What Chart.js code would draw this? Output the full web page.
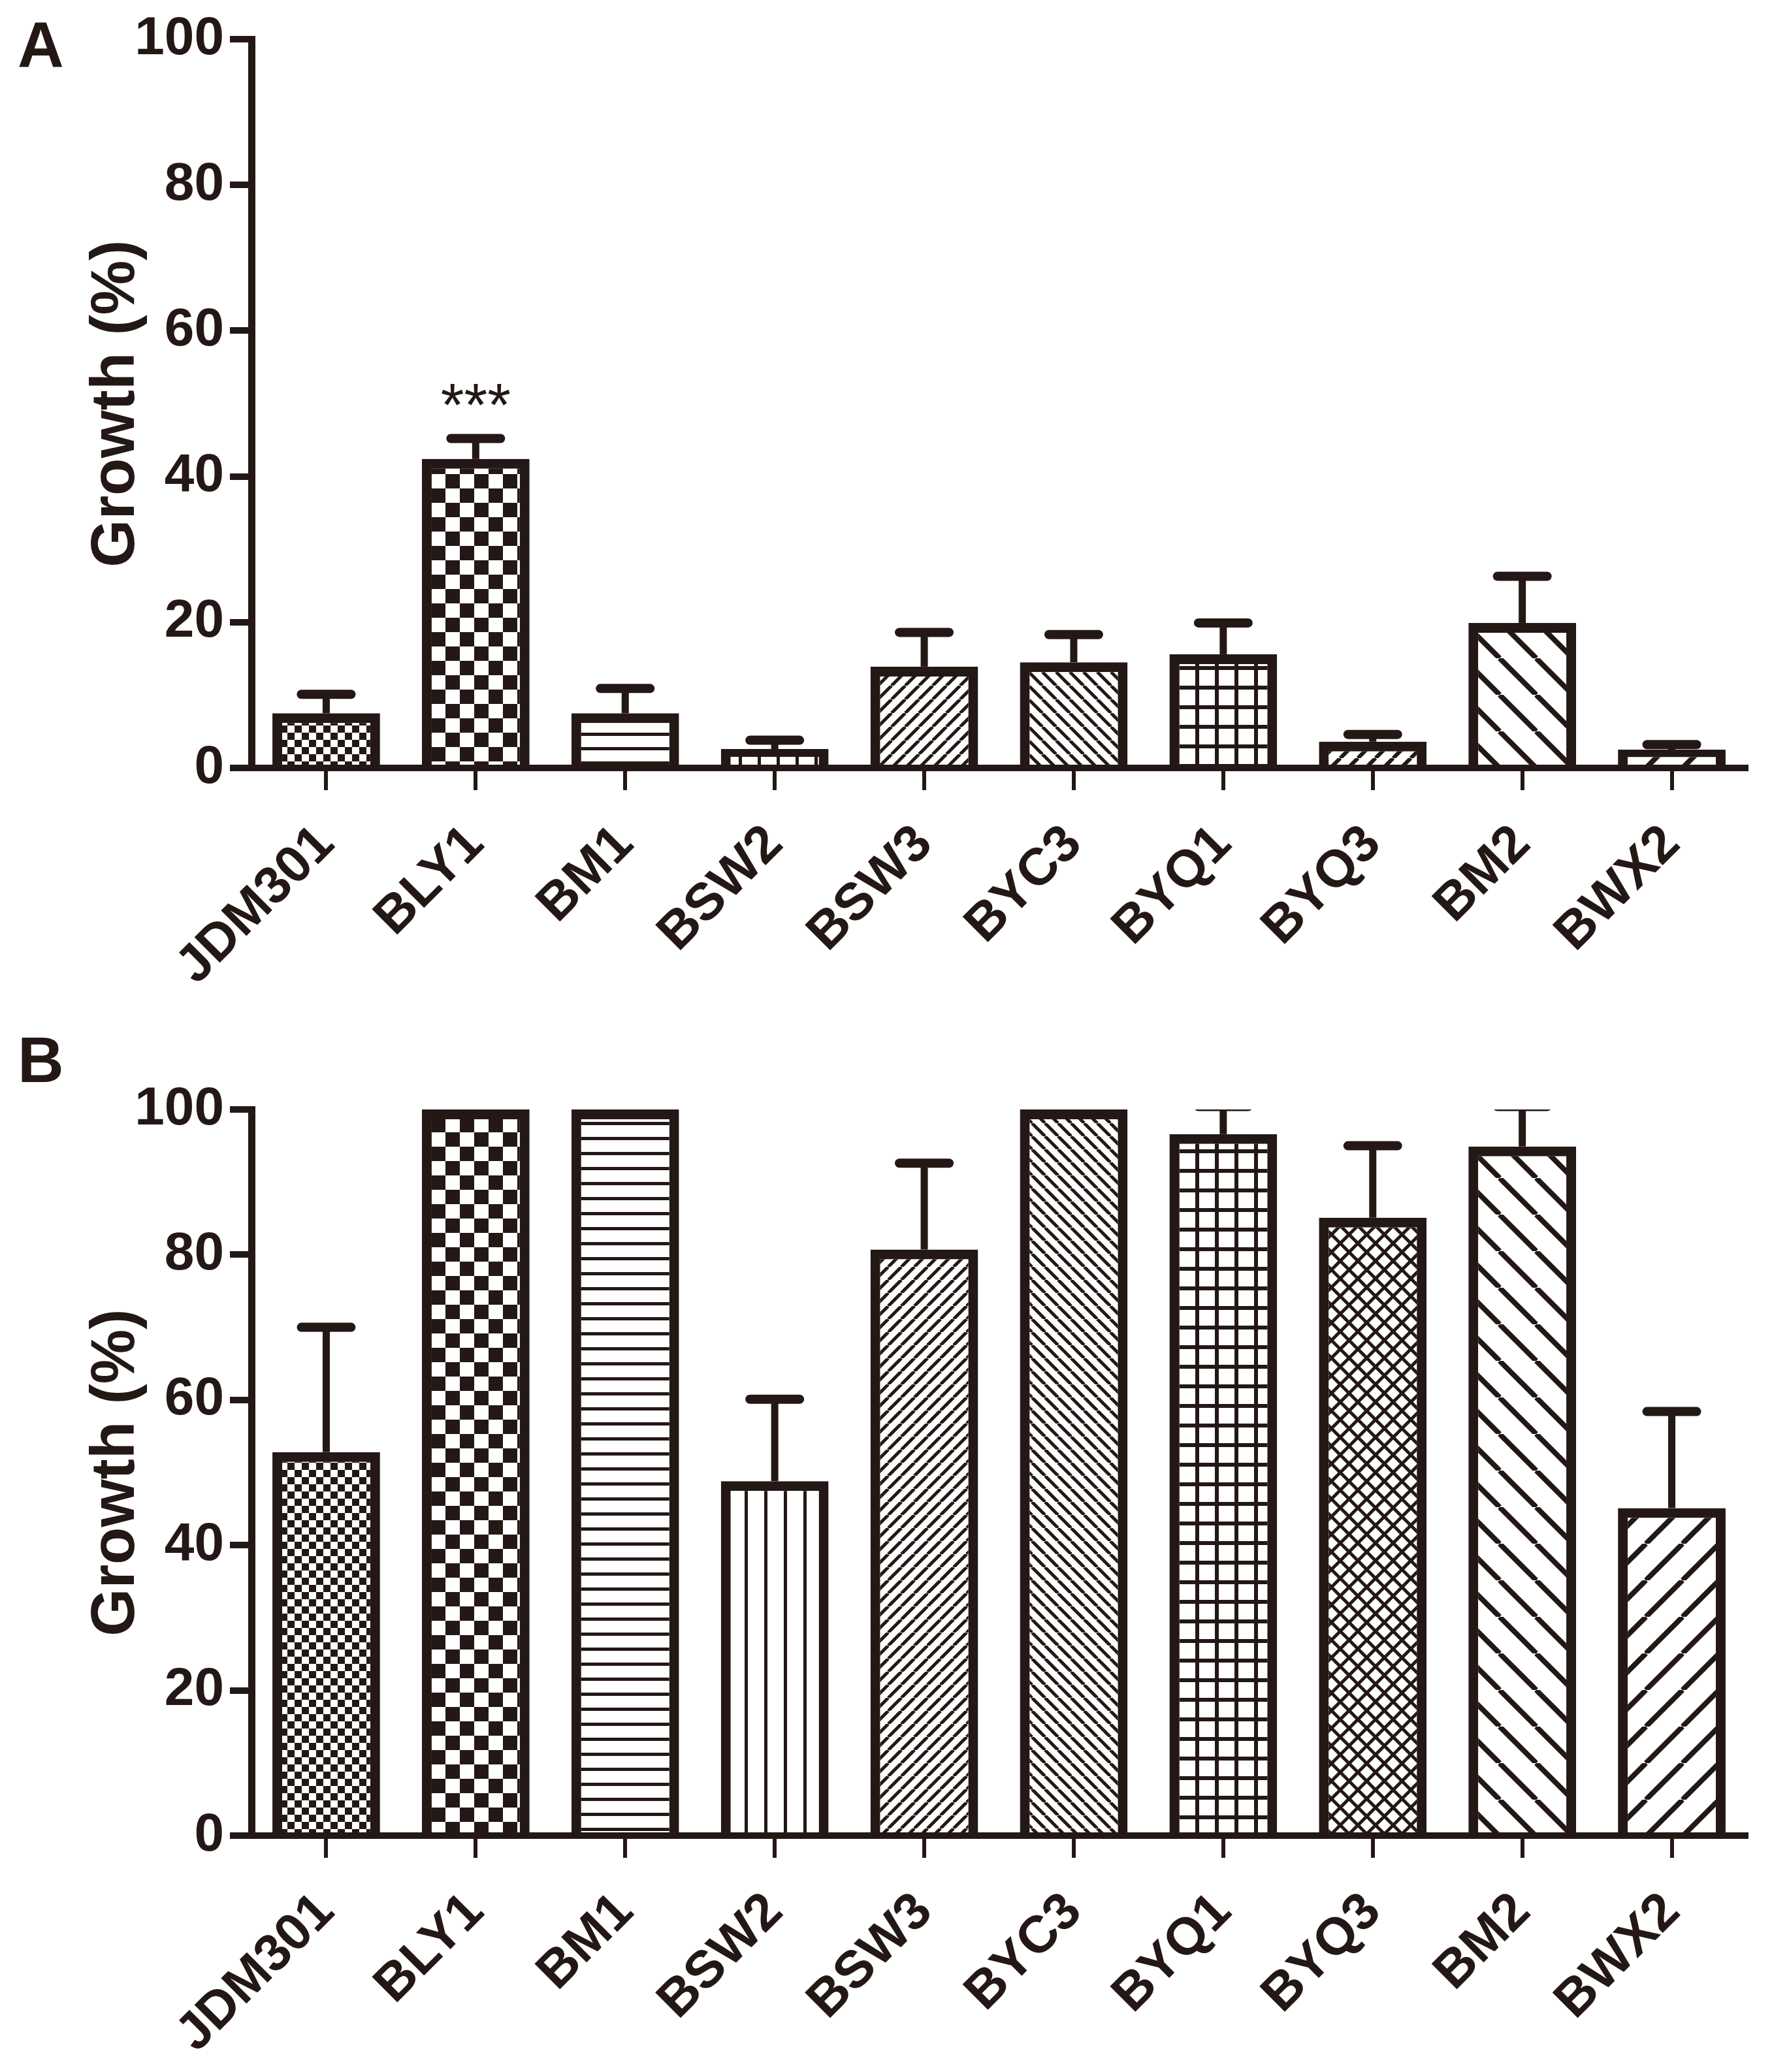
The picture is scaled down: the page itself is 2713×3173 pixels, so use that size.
<!DOCTYPE html>
<html>
<head>
<meta charset="utf-8">
<script src="https://cdn.jsdelivr.net/npm/chart.js@4.4.1/dist/chart.umd.min.js"></script>
<style>
html, body { margin: 0; padding: 0; background: #fff; }
body { width: 2713px; height: 3173px; position: relative; overflow: hidden; }
canvas { position: absolute; left: 0; }
#chartA { top: 0; }
#chartB { top: 1580px; }
</style>
</head>
<body>
<canvas id="chartA" width="2713" height="1580"></canvas>
<canvas id="chartB" width="2713" height="1593"></canvas>
<script>
// Strains on the x axis
const categories = ['JDM301', 'BLY1', 'BM1', 'BSW2', 'BSW3', 'BYC3', 'BYQ1', 'BYQ3', 'BM2', 'BWX2'];

// Panel A: growth (%) and error (SD)
const growthA = [7.5, 42.4, 7.5, 2.6, 13.9, 14.5, 15.6, 3.6, 19.9, 2.5];
const errorA = [2.6, 2.8, 3.4, 1.2, 4.7, 3.8, 4.3, 1.0, 6.4, 0.7];
const starsA = ['', '***', '', '', '', '', '', '', '', ''];

// Panel B: growth (%) and error (SD)
const growthB = [52.8, 100, 100, 48.8, 80.7, 100, 96.6, 85.1, 94.9, 45.1];
const errorB = [17.2, 0, 0, 11.3, 11.9, 0, 3.8, 9.9, 5.5, 13.3];
const starsB = ['', '', '', '', '', '', '', '', '', ''];

// Y axis tick labels
const yTicks = [0, 20, 40, 60, 80, 100];

const INK = '#231815';
const FONT = "'Liberation Sans', Arial, Helvetica, sans-serif";

Chart.defaults.font.family = FONT;
Chart.defaults.color = INK;

// ---- fill patterns ----
function tile(w, h, draw) {
const c = document.createElement('canvas');
c.width = w;
c.height = h;
const g = c.getContext('2d');
g.fillStyle = '#fff';
g.fillRect(0, 0, w, h);
g.fillStyle = INK;
g.strokeStyle = INK;
draw(g, w, h);
return g.createPattern(c, 'repeat');
}

const checker = (cell) => tile(cell * 2, cell * 2, (g) => {
g.fillRect(0, 0, cell, cell);
g.fillRect(cell, cell, cell, cell);
});
const hlines = (p, t) => tile(8, p, (g) => g.fillRect(0, 0, 8, t));
const vlines = (p, t) => tile(p, 8, (g) => g.fillRect(0, 0, t, 8));
const grid = (p, t) => tile(p, p, (g) => {
g.fillRect(0, 0, p, t);
g.fillRect(0, 0, t, p);
});
function diagLines(g, p, t, dir) {
g.lineWidth = t;
g.beginPath();
for (let k = -1; k <= 1; k += 1) {
if (dir > 0) {
g.moveTo(k * p, p);
g.lineTo(k * p + p, 0);
} else {
g.moveTo(k * p, 0);
g.lineTo(k * p + p, p);
}
}
g.stroke();
}
const fwd = (p, t) => tile(p, p, (g) => diagLines(g, p, t, 1));
const back = (p, t) => tile(p, p, (g) => diagLines(g, p, t, -1));
const cross = (p, t) => tile(p, p, (g) => {
diagLines(g, p, t, 1);
diagLines(g, p, t, -1);
});

const fillsA = [
checker(11), checker(22), hlines(22, 5), vlines(29, 5), fwd(21, 5),
back(21, 5), grid(30, 6), fwd(27, 6), back(56, 8), fwd(56, 8)
];
const fillsB = [
checker(11), checker(22), hlines(23, 5), vlines(30, 5), fwd(20, 5),
back(20, 5), grid(30, 6), cross(27, 5), back(56, 8), fwd(56, 8)
];

// ---- plugins ----
const errorBars = {
id: 'errorBars',
afterDatasetsDraw(chart) {
const { ctx, chartArea } = chart;
const yScale = chart.scales.y;
chart.data.datasets.forEach((ds, di) => {
const meta = chart.getDatasetMeta(di);
ctx.save();
ctx.beginPath();
ctx.rect(chartArea.left, chartArea.top, chartArea.right - chartArea.left, chartArea.bottom - chartArea.top);
ctx.clip();
ctx.strokeStyle = INK;
meta.data.forEach((bar, i) => {
const err = ds.errors[i];
if (!err) return;
const yTop = yScale.getPixelForValue(ds.data[i] + err);
ctx.lineCap = 'butt';
ctx.lineWidth = 11;
ctx.beginPath();
ctx.moveTo(bar.x, bar.y);
ctx.lineTo(bar.x, yTop);
ctx.stroke();
ctx.lineCap = 'round';
ctx.lineWidth = 14;
ctx.beginPath();
ctx.moveTo(bar.x - 38, yTop);
ctx.lineTo(bar.x + 38, yTop);
ctx.stroke();
});
ctx.restore();

// significance marks
ctx.save();
ctx.fillStyle = INK;
ctx.font = `400 92px ${FONT}`;
ctx.textAlign = 'center';
ctx.textBaseline = 'alphabetic';
meta.data.forEach((bar, i) => {
const s = ds.stars[i];
if (!s) return;
const yTop = yScale.getPixelForValue(ds.data[i] + ds.errors[i]);
ctx.fillText(s, bar.x, yTop - 20);
});
ctx.restore();
});
}
};

const panelLabel = {
id: 'panelLabel',
afterDraw(chart, args, opts) {
const { ctx } = chart;
ctx.save();
ctx.fillStyle = INK;
ctx.font = `700 98px ${FONT}`;
ctx.textAlign = 'left';
ctx.textBaseline = 'alphabetic';
ctx.fillText(opts.text, opts.x, opts.y);
ctx.restore();
}
};

function buildChart(id, values, errors, stars, fills, letter, topPad, axisHeight) {
return new Chart(document.getElementById(id), {
type: 'bar',
data: {
labels: categories,
datasets: [{
data: values,
errors,
stars,
backgroundColor: fills,
borderColor: INK,
borderWidth: 15,
borderSkipped: 'bottom',
barPercentage: 0.72,
categoryPercentage: 1
}]
},
options: {
responsive: false,
devicePixelRatio: 1,
animation: false,
events: [],
layout: { padding: { top: topPad, left: 0, right: 39, bottom: 0 } },
plugins: {
legend: { display: false },
tooltip: { enabled: false },
panelLabel: letter
},
scales: {
x: {
afterFit(scale) { scale.height = axisHeight; },
grid: {
display: true,
offset: false,
drawOnChartArea: false,
drawTicks: true,
tickLength: 34,
tickWidth: 6,
tickColor: INK,
lineWidth: 6,
color: INK
},
border: { display: true, width: 10, color: INK },
ticks: {
minRotation: 45,
maxRotation: 45,
autoSkip: false,
padding: 36,
color: INK,
font: { size: 80, weight: 'bold' }
}
},
y: {
min: 0,
max: 100,
afterFit(scale) { scale.width = 385; },
afterBuildTicks(scale) { scale.ticks = yTicks.map((v) => ({ value: v })); },
grid: {
display: true,
drawOnChartArea: false,
drawTicks: true,
tickLength: 33,
tickWidth: 10,
tickColor: INK,
lineWidth: 10,
color: INK
},
border: { display: true, width: 11, color: INK },
ticks: {
padding: 9,
color: INK,
font: { size: 82, weight: 'bold' }
},
title: {
display: true,
text: 'Growth (%)',
color: INK,
font: { size: 94, weight: 'bold', lineHeight: 1.2 },
padding: { top: 123, bottom: 0 }
}
}
}
},
plugins: [errorBars, panelLabel]
});
}

buildChart('chartA', growthA, errorA, starsA, fillsA, { text: 'A', x: 27, y: 102 }, 60, 404);
buildChart('chartB', growthB, errorB, starsB, fillsB, { text: 'B', x: 27, y: 77 }, 119, 362);
</script>
</body>
</html>
